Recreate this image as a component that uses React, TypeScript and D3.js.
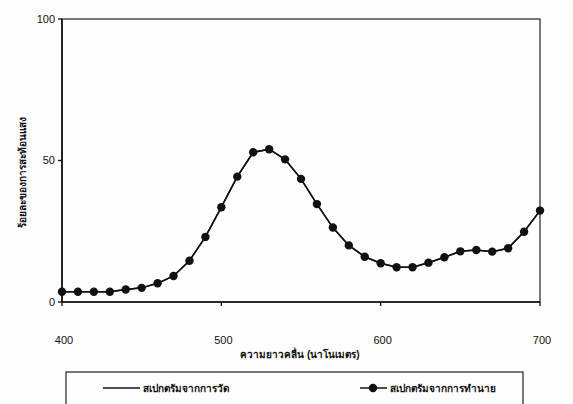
import React from "react";
import * as d3 from "d3";

const width = 573;
const height = 404;
const margin = { top: 19, right: 33, bottom: 102, left: 62 };

// wavelengths (nm), every 10 nm
const wavelengths = [
  400, 410, 420, 430, 440, 450, 460, 470, 480, 490, 500, 510, 520, 530, 540,
  550, 560, 570, 580, 590, 600, 610, 620, 630, 640, 650, 660, 670, 680, 690, 700
];
// measured spectrum (% reflectance)
const measured = [
  3.6, 3.6, 3.6, 3.6, 4.4, 5.0, 6.6, 9.2, 14.6, 23.0, 33.5, 44.3, 52.9, 54.0, 50.4,
  43.5, 34.6, 26.3, 20.0, 16.0, 13.7, 12.3, 12.3, 13.9, 15.8, 17.9, 18.4, 17.8, 19.0, 24.8, 32.3
];
// predicted spectrum
const predicted = measured.slice();

const xTicks = [400, 500, 600, 700];
const yTicks = [0, 50, 100];
const legendLabels = ["สเปกตรัมจากการวัด", "สเปกตรัมจากการทำนาย"];
const xTitle = "ความยาวคลื่น (นาโนเมตร)";
const yTitle = "ร้อยละของการสะท้อนแสง";

const font = "'Liberation Sans', Arial, sans-serif";

export default function App() {
  const x = d3
    .scaleLinear()
    .domain([400, 700])
    .range([margin.left, width - margin.right]);
  const y = d3
    .scaleLinear()
    .domain([0, 100])
    .range([height - margin.bottom, margin.top]);

  const line = d3
    .line<number>()
    .x((_, i) => x(wavelengths[i]))
    .y((d) => y(d));

  const x0 = x(400);
  const x1 = x(700);
  const y0 = y(0);
  const y1 = y(100);

  return (
    <svg
      width={width}
      height={height}
      style={{ position: "absolute", left: 0, top: 0, background: "#fdfdfd" }}
      fontFamily={font}
    >
      {/* frame */}
      <rect x={x0} y={y1} width={x1 - x0} height={y0 - y1} fill="none" stroke="#333" strokeWidth={1.3} />
      <line x1={x0} x2={x0} y1={y1} y2={y0} stroke="#111" strokeWidth={1.6} />
      <line x1={x0} x2={x1} y1={y0} y2={y0} stroke="#111" strokeWidth={1.6} />

      {/* y ticks */}
      {yTicks.map((t) => (
        <g key={"y" + t}>
          <line x1={x0 - 4} x2={x0} y1={y(t)} y2={y(t)} stroke="#111" strokeWidth={1.3} />
          <text x={x0 - 7} y={y(t)} dy="0.35em" textAnchor="end" fontSize={11} fill="#111">
            {t}
          </text>
        </g>
      ))}

      {/* x ticks */}
      {xTicks.map((t) => (
        <g key={"x" + t}>
          <line x1={x(t)} x2={x(t)} y1={y0} y2={y0 + 4} stroke="#111" strokeWidth={1.3} />
          <text x={x(t) + 2} y={344} textAnchor="middle" fontSize={11} fill="#111">
            {t}
          </text>
        </g>
      ))}

      {/* axis titles */}
      <text x={300} y={358} textAnchor="middle" fontSize={10} fontWeight="bold" fill="#111">
        {xTitle}
      </text>
      <text
        transform={`translate(26,${172}) rotate(-90)`}
        textAnchor="middle"
        fontSize={10}
        fontWeight="bold"
        fill="#111"
      >
        {yTitle}
      </text>

      {/* measured line */}
      <path d={line(measured) || ""} fill="none" stroke="#111" strokeWidth={1.5} />
      {/* predicted line + markers */}
      <path d={line(predicted) || ""} fill="none" stroke="#111" strokeWidth={1.5} />
      {predicted.map((v, i) => (
        <circle key={i} cx={x(wavelengths[i])} cy={y(v)} r={4.2} fill="#111" />
      ))}

      {/* legend */}
      <rect x={66} y={372} width={457} height={40} fill="none" stroke="#222" strokeWidth={1.2} />
      <line x1={103} x2={140} y1={388} y2={388} stroke="#111" strokeWidth={1.5} />
      <text x={143} y={388} dy="0.35em" fontSize={10} fontWeight="bold" fill="#111">
        {legendLabels[0]}
      </text>
      <line x1={360} x2={387} y1={388} y2={388} stroke="#111" strokeWidth={1.5} />
      <circle cx={373} cy={388} r={4.2} fill="#111" />
      <text x={390} y={388} dy="0.35em" fontSize={10} fontWeight="bold" fill="#111">
        {legendLabels[1]}
      </text>
    </svg>
  );
}
